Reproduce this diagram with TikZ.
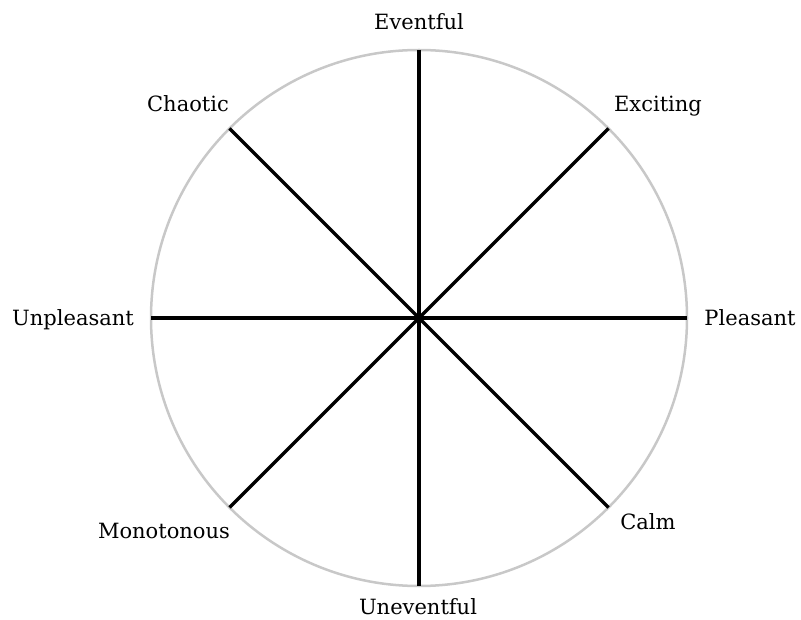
\documentclass[tikz,border=0pt]{standalone}
\usepackage{fontspec}
\setmainfont{DejaVu Serif}
\usepackage{xcolor}
\usepackage{tikz}

\begin{document}
\begin{tikzpicture}[x=1pt,y=-1pt,every node/.style={font=\fontsize{21}{24}\selectfont},
  axisline/.style={line width=3.2pt,color=black},
  rim/.style={line width=2.5pt,color={rgb,255:red,200;green,200;blue,200}}]
\useasboundingbox (0,0) rectangle (801,620);
\coordinate (o) at (419,318);
\draw[rim] (o) circle (268);
\coordinate (n) at (419,50);
\coordinate (ne) at (608.5,128.5);
\coordinate (e) at (687,318);
\coordinate (se) at (608.5,507.5);
\coordinate (s) at (419,586);
\coordinate (sw) at (229.5,507.5);
\coordinate (w) at (151,318);
\coordinate (nw) at (229.5,128.5);
\draw[axisline] (n) -- (s);
\draw[axisline] (w) -- (e);
\draw[axisline] (nw) -- (se);
\draw[axisline] (sw) -- (ne);
\node (eventful) at (419,22) {Eventful};
\node (exciting) at (658,106) {Exciting};
\node (pleasant) at (750,318) {Pleasant};
\node (calm) at (648,522) {Calm};
\node[inner sep=1pt] (uneventful) at (418,607) {Uneventful};
\node (monotonous) at (164,531) {Monotonous};
\node (unpleasant) at (73,320) {Unpleasant};
\node (chaotic) at (188,104) {Chaotic};
\end{tikzpicture}
\end{document}
